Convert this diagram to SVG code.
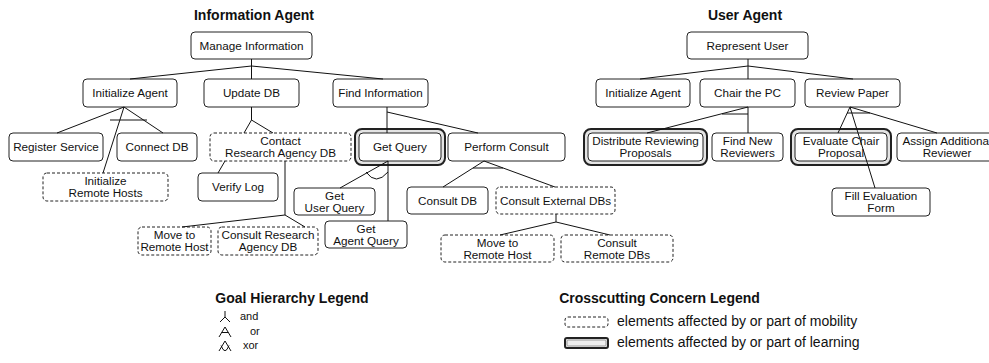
<svg xmlns="http://www.w3.org/2000/svg" width="989" height="363" viewBox="0 0 989 363">
<style>
text{font-family:"Liberation Sans",Arial,sans-serif;fill:#111}
.t{font-size:11.7px;text-anchor:middle}
.h{font-size:14px;font-weight:bold;text-anchor:middle}
.lg{font-size:14px}
.ls{font-size:11px}
.n{fill:#fff;stroke:#222;stroke-width:1}
.d{fill:#fff;stroke:#222;stroke-width:1;stroke-dasharray:3 2}
.o{fill:#e4e4e4;stroke:#222;stroke-width:2}
.c{fill:none;stroke:#111;stroke-width:1}
</style>
<rect width="989" height="363" fill="#fff"/>
<text class="h" x="254" y="20">Information Agent</text>
<text class="h" x="745" y="20">User Agent</text>

<g id="n_manage"><rect class="n" x="191" y="32" width="121" height="27" rx="4"/><text class="t" x="251.5" y="49.5">Manage Information</text></g>
<g id="n_initA"><rect class="n" x="83" y="79" width="94" height="28" rx="4"/><text class="t" x="130" y="97">Initialize Agent</text></g>
<g id="n_update"><rect class="n" x="204" y="79" width="95" height="28" rx="4"/><text class="t" x="251.5" y="97">Update DB</text></g>
<g id="n_find"><rect class="n" x="333" y="79" width="95" height="28" rx="4"/><text class="t" x="380.5" y="97">Find Information</text></g>
<g id="n_register"><rect class="n" x="9" y="133" width="94" height="28" rx="4"/><text class="t" x="56" y="151">Register Service</text></g>
<g id="n_connect"><rect class="n" x="117" y="133" width="80" height="28" rx="4"/><text class="t" x="157" y="151">Connect DB</text></g>
<g id="n_initRemote"><rect class="d" x="43" y="173" width="125" height="28" rx="4"/><text class="t" x="105.5" y="185">Initialize</text><text class="t" x="105.5" y="197">Remote Hosts</text></g>
<g id="n_contact"><rect class="d" x="210" y="133" width="141" height="28" rx="4"/><text class="t" x="280.5" y="145">Contact</text><text class="t" x="280.5" y="157">Research Agency DB</text></g>
<g id="n_verify"><rect class="n" x="198" y="173" width="80" height="28" rx="4"/><text class="t" x="238" y="191">Verify Log</text></g>
<g id="n_moveRH1"><rect class="d" x="138" y="227" width="73" height="28" rx="4"/><text class="t" x="174.5" y="239">Move to</text><text class="t" x="174.5" y="251">Remote Host</text></g>
<g id="n_consultRA"><rect class="d" x="218" y="227" width="100" height="28" rx="4"/><text class="t" x="268" y="239">Consult Research</text><text class="t" x="268" y="251">Agency DB</text></g>
<g id="n_getQuery"><rect class="o" x="355" y="129" width="90" height="36" rx="7"/><rect class="n" x="359" y="133" width="82" height="28" rx="4"/><text class="t" x="400" y="151">Get Query</text></g>
<g id="n_perform"><rect class="n" x="448" y="133" width="117" height="28" rx="4"/><text class="t" x="506.5" y="151">Perform Consult</text></g>
<g id="n_getUser"><rect class="n" x="294" y="188" width="81" height="27" rx="4"/><text class="t" x="334.5" y="199.5">Get</text><text class="t" x="334.5" y="211.5">User Query</text></g>
<g id="n_getAgent"><rect class="n" x="325" y="221" width="82" height="27" rx="4"/><text class="t" x="366" y="232.5">Get</text><text class="t" x="366" y="244.5">Agent Query</text></g>
<g id="n_consultDB"><rect class="n" x="407" y="187" width="81" height="27" rx="4"/><text class="t" x="447.5" y="204.5">Consult DB</text></g>
<g id="n_consultExt"><rect class="d" x="496" y="187" width="119" height="27" rx="4"/><text class="t" x="555.5" y="204.5">Consult External DBs</text></g>
<g id="n_moveRH2"><rect class="d" x="441" y="235" width="113" height="27" rx="4"/><text class="t" x="497.5" y="246.5">Move to</text><text class="t" x="497.5" y="258.5">Remote Host</text></g>
<g id="n_consultRemote"><rect class="d" x="561" y="235" width="112" height="27" rx="4"/><text class="t" x="617" y="246.5">Consult</text><text class="t" x="617" y="258.5">Remote DBs</text></g>

<g id="n_represent"><rect class="n" x="687" y="32" width="121" height="27" rx="4"/><text class="t" x="747.5" y="49.5">Represent User</text></g>
<g id="n_initA2"><rect class="n" x="596" y="79" width="94" height="28" rx="4"/><text class="t" x="643" y="97">Initialize Agent</text></g>
<g id="n_chair"><rect class="n" x="700" y="79" width="95" height="28" rx="4"/><text class="t" x="747.5" y="97">Chair the PC</text></g>
<g id="n_review"><rect class="n" x="805" y="79" width="95" height="28" rx="4"/><text class="t" x="852.5" y="97">Review Paper</text></g>
<g id="n_distribute"><rect class="o" x="584" y="129" width="123" height="36" rx="7"/><rect class="n" x="588" y="133" width="115" height="28" rx="4"/><text class="t" x="645.5" y="145">Distribute Reviewing</text><text class="t" x="645.5" y="157">Proposals</text></g>
<g id="n_findNew"><rect class="n" x="712" y="133" width="71" height="28" rx="4"/><text class="t" x="747.5" y="145">Find New</text><text class="t" x="747.5" y="157">Reviewers</text></g>
<g id="n_evaluate"><rect class="o" x="791" y="129" width="100" height="36" rx="7"/><rect class="n" x="795" y="133" width="92" height="28" rx="4"/><text class="t" x="841" y="145">Evaluate Chair</text><text class="t" x="841" y="157">Proposal</text></g>
<g id="n_assign"><rect class="n" x="897" y="133" width="100" height="28" rx="4"/><text class="t" x="947" y="145">Assign Additional</text><text class="t" x="947" y="157">Reviewer</text></g>
<g id="n_fill"><rect class="n" x="832" y="188" width="98" height="28" rx="4"/><text class="t" x="881" y="200">Fill Evaluation</text><text class="t" x="881" y="212">Form</text></g>

<g id="connectors" class="c">
<path class="c" d="M251.5,59V79M251.5,66L130,79M251.5,66L383,79"/>
<path class="c" d="M124,107L57,133M124,107L163,133M124,107L103,173M110,120H147"/>
<path class="c" d="M251.5,107V120L244,133M251.5,120L273,133"/>
<path class="c" d="M225,161L218,173M285,161V215L182,227M285,215L305,227"/>
<path class="c" d="M387,107V133M387,112L478,133"/>
<path class="c" d="M388,161L340,188M388,161V221M366,172Q376,186 388,172"/>
<path class="c" d="M484,161L443,187M484,161L555,187M473,168H503"/>
<path class="c" d="M556,214V222L500,235M556,222L610,235"/>
<path class="c" d="M748,59V79M748,66L640,79M748,66L853,79"/>
<path class="c" d="M748,107L647,133M748,107V133M722,114H748"/>
<path class="c" d="M850,107L838,133M850,107L875,188M850,107L937,133M847,113H870"/>
</g>

<g id="legend_goal">
<text class="h" x="292" y="303">Goal Hierarchy Legend</text>
<path class="c" d="M225,311V317M220,322L225,317L230,322"/>
<path class="c" d="M219,337L225,327L231,337M221.5,332.5H228.5"/>
<path class="c" d="M219,351L225,341L231,351M221,345.5Q225,356 229,345.5"/>
<text class="ls" x="240" y="320">and</text>
<text class="ls" x="250" y="335">or</text>
<text class="ls" x="243" y="349">xor</text>
</g>
<g id="legend_cc">
<text class="h" x="659.5" y="303">Crosscutting Concern Legend</text>
<rect class="d" x="565" y="317" width="43" height="10" rx="3"/>
<text class="lg" x="617" y="326">elements affected by or part of mobility</text>
<rect x="565" y="338" width="43" height="10" rx="2" fill="#eee" stroke="#222" stroke-width="2"/>
<rect x="567" y="340" width="39" height="6" rx="1" fill="none" stroke="#999" stroke-width="1"/>
<text class="lg" x="617" y="347">elements affected by or part of learning</text>
</g>
</svg>
